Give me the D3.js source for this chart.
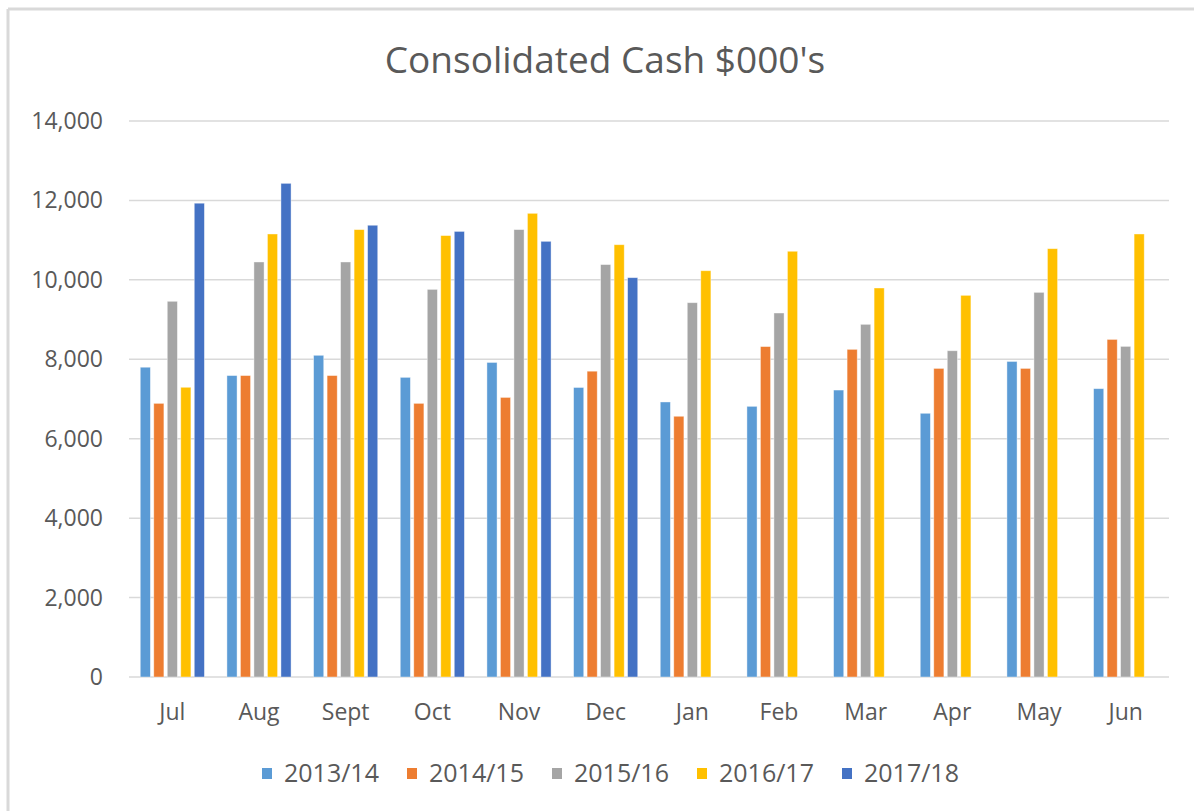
<!DOCTYPE html>
<html>
<head>
<meta charset="utf-8">
<script src="https://cdn.jsdelivr.net/npm/d3@7"></script>
<style>
  body { margin: 0; background: #fff; }
  text { font-family: "Open Sans", sans-serif; fill: #595959; }
</style>
</head>
<body>
<div id="chart"></div>
<script>
var months = ['Jul','Aug','Sept','Oct','Nov','Dec','Jan','Feb','Mar','Apr','May','Jun'];
var seriesNames = ['2013/14','2014/15','2015/16','2016/17','2017/18'];
var colors = ['#5B9BD5','#ED7D31','#A5A5A5','#FFC000','#4472C4'];

var fy1314 = [7800, 7590, 8100, 7545, 7920, 7290, 6925, 6815, 7225, 6640, 7945, 7260];
var fy1415 = [6890, 7590, 7590, 6890, 7040, 7700, 6565, 8320, 8250, 7770, 7770, 8500];
var fy1516 = [9460, 10450, 10450, 9760, 11265, 10385, 9425, 9165, 8880, 8215, 9685, 8325];
var fy1617 = [7295, 11155, 11265, 11115, 11675, 10885, 10230, 10720, 9795, 9610, 10785, 11155];
var fy1718 = [11930, 12430, 11375, 11220, 10970, 10055, null, null, null, null, null, null];

var yTicks = [0, 2000, 4000, 6000, 8000, 10000, 12000, 14000];

var allSeries = [fy1314, fy1415, fy1516, fy1617, fy1718];

var width = 1194;
var height = 811;
var plotLeft = 129;
var plotRight = 1169;
var plotTop = 121;
var plotBottom = 677;

var svg = d3.select('#chart')
  .append('svg')
  .attr('width', width)
  .attr('height', height);

// border (only top and left visible in the reference crop)
svg.append('line')
  .attr('x1', 8).attr('x2', width).attr('y1', 9).attr('y2', 9)
  .attr('stroke', '#d9d9d9').attr('stroke-width', 3);
svg.append('line')
  .attr('x1', 8).attr('x2', 8).attr('y1', 9).attr('y2', height)
  .attr('stroke', '#d9d9d9').attr('stroke-width', 3);

var x0 = d3.scaleBand()
  .domain(months)
  .range([plotLeft, plotRight])
  .paddingInner(0.26)
  .paddingOuter(0.13);

var x1 = d3.scaleBand()
  .domain(seriesNames)
  .range([0, x0.bandwidth()])
  .paddingInner(0.25);

var y = d3.scaleLinear()
  .domain([0, 14000])
  .range([plotBottom, plotTop]);

// gridlines
svg.append('g')
  .selectAll('line')
  .data(yTicks)
  .enter()
  .append('line')
  .attr('x1', plotLeft)
  .attr('x2', plotRight)
  .attr('y1', d => y(d))
  .attr('y2', d => y(d))
  .attr('stroke', '#d9d9d9')
  .attr('stroke-width', 1.5);

// y labels
var fmt = d3.format(',');
svg.append('g')
  .selectAll('text')
  .data(yTicks)
  .enter()
  .append('text')
  .attr('x', 103)
  .attr('y', d => y(d))
  .attr('dy', '0.35em')
  .attr('text-anchor', 'end')
  .style('font-size', '23px')
  .text(d => fmt(d));

// bars
var rows = months.map(function(m, i) {
  return { month: m, values: allSeries.map((s, j) => ({ key: seriesNames[j], value: s[i], color: colors[j] })) };
});

var groups = svg.append('g')
  .selectAll('g')
  .data(rows)
  .enter()
  .append('g')
  .attr('transform', d => `translate(${x0(d.month)},0)`);

groups.selectAll('rect')
  .data(d => d.values.filter(v => v.value != null))
  .enter()
  .append('rect')
  .attr('x', d => x1(d.key))
  .attr('y', d => y(d.value))
  .attr('width', x1.bandwidth())
  .attr('height', d => plotBottom - y(d.value))
  .attr('fill', d => d.color)
  .attr('stroke', '#ffffff')
  .attr('stroke-opacity', 0.5)
  .attr('stroke-width', 0.8);

// x labels
svg.append('g')
  .selectAll('text')
  .data(months)
  .enter()
  .append('text')
  .attr('x', d => x0(d) + x0.bandwidth() / 2)
  .attr('y', 712)
  .attr('dy', '0.35em')
  .attr('text-anchor', 'middle')
  .style('font-size', '23px')
  .text(d => d);

// title
svg.append('text')
  .attr('x', 605)
  .attr('y', 60)
  .attr('dy', '0.35em')
  .attr('text-anchor', 'middle')
  .style('font-size', '37px')
  .text("Consolidated Cash $000's");

// legend
var legendX = [262, 407, 552, 697, 842];
var legend = svg.append('g')
  .selectAll('g')
  .data(seriesNames)
  .enter()
  .append('g')
  .attr('transform', (d, i) => `translate(${legendX[i]},773)`);

legend.append('rect')
  .attr('x', 0)
  .attr('y', -5)
  .attr('width', 10)
  .attr('height', 11)
  .attr('fill', (d, i) => colors[i]);

legend.append('text')
  .attr('x', 22)
  .attr('y', 0)
  .attr('dy', '0.35em')
  .style('font-size', '25px')
  .text(d => d);
</script>
</body>
</html>
